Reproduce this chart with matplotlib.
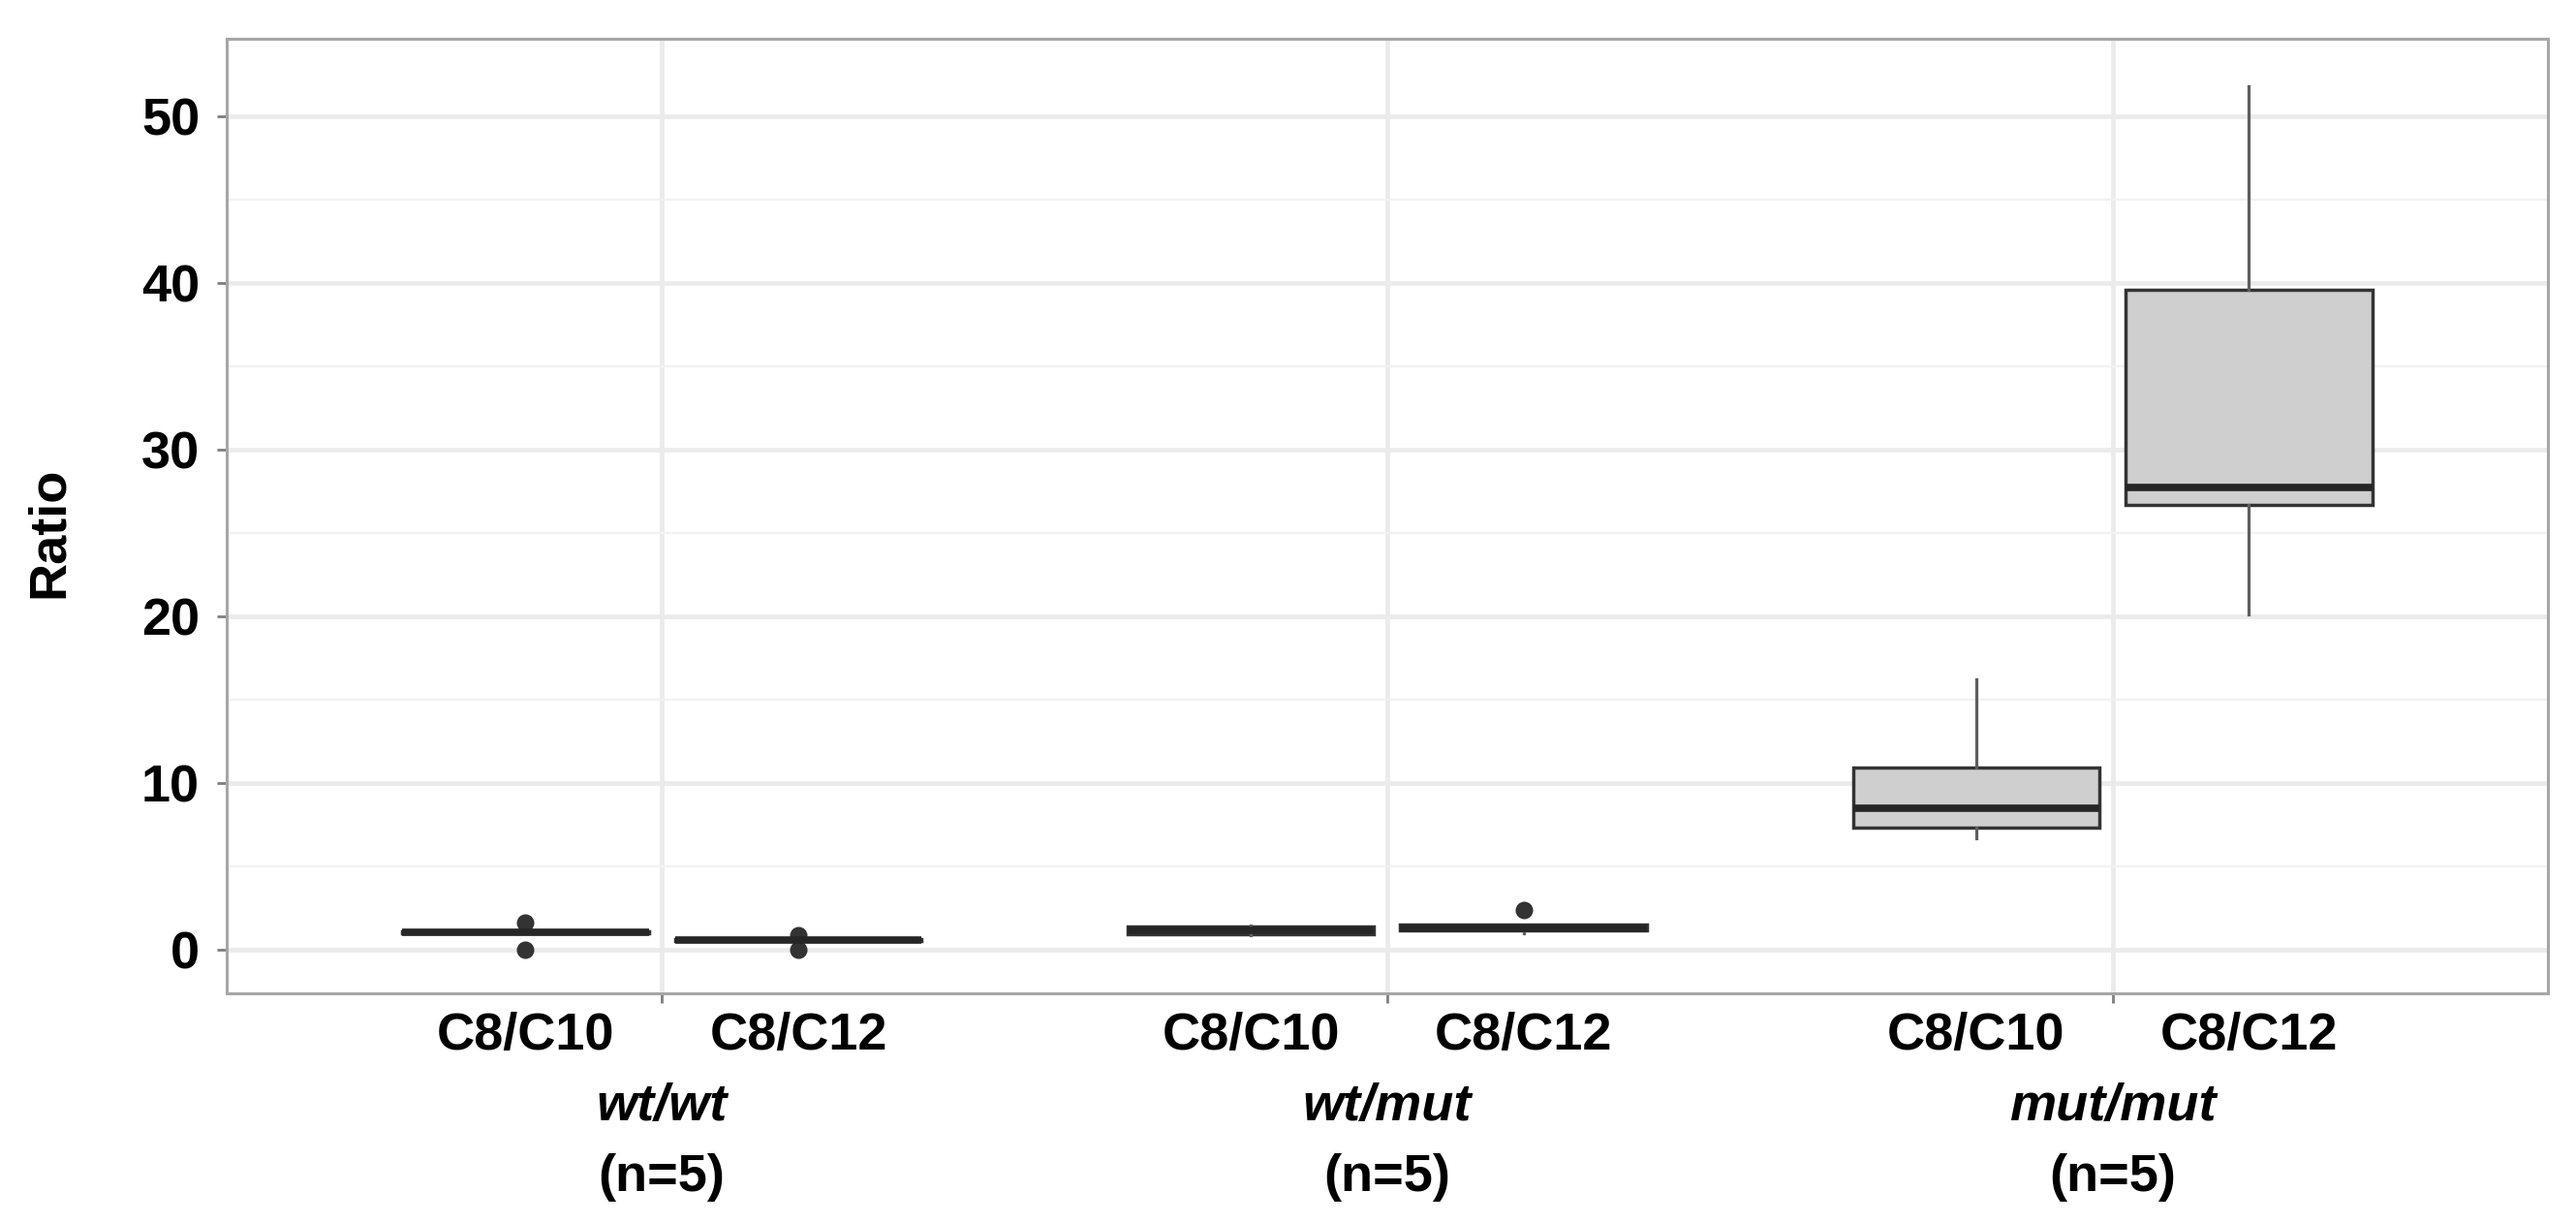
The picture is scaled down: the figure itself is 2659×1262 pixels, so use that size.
import numpy as np
import matplotlib.pyplot as plt
from matplotlib.ticker import MultipleLocator
from matplotlib.transforms import blended_transform_factory

plt.rcParams['font.family'] = ['Liberation Sans', 'DejaVu Sans']

genotypes = ['wt/wt', 'wt/mut', 'mut/mut']
sample_sizes = [5, 5, 5]
ratio_names = ['C8/C10', 'C8/C12']

# five samples per genotype
c8_c10 = [[0.0, 1.0, 1.05, 1.1, 1.6],
          [0.9, 0.95, 1.15, 1.4, 1.45],
          [6.7, 7.3, 8.5, 10.9, 16.2]]
c8_c12 = [[0.0, 0.55, 0.6, 0.65, 0.85],
          [1.0, 1.15, 1.3, 1.5, 2.4],
          [20.1, 26.7, 27.7, 39.6, 51.8]]

dodge = 0.188
box_w = 0.34
fs = 39

fig = plt.figure(figsize=(26.59, 12.62), dpi=100)
ax = fig.add_axes([0.088, 0.188, 0.901, 0.780])

groups = np.arange(1, len(genotypes) + 1)

style = dict(widths=box_w, patch_artist=True, showcaps=False,
             boxprops=dict(facecolor='#cfcfcf', edgecolor='#333333', linewidth=2.5),
             medianprops=dict(color='#262626', linewidth=5.5),
             whiskerprops=dict(color='#5e5e5e', linewidth=2.3),
             flierprops=dict(marker='o', markerfacecolor='#333333',
                             markeredgecolor='#333333', markersize=12))

for data, off in zip([c8_c10, c8_c12], [-dodge, dodge]):
    ax.boxplot(data, positions=groups + off, **style)

ax.set_xlim(0.4, 3.6)
ax.set_ylim(-2.6, 54.6)

ax.yaxis.set_major_locator(MultipleLocator(10))
ax.yaxis.set_minor_locator(MultipleLocator(5))
ax.set_xticks(groups)
ax.set_xticklabels([''] * len(groups))

ax.set_axisbelow(True)
ax.grid(which='major', color='#ebebeb', linewidth=3.4)
ax.grid(which='minor', axis='y', color='#f2f2f2', linewidth=1.7)

for sp in ax.spines.values():
    sp.set_color('#a6a6a6')
    sp.set_linewidth(2.2)

ax.tick_params(axis='both', which='major', length=7, width=2, color='#7f7f7f')
ax.tick_params(axis='y', which='minor', length=0)
ax.tick_params(axis='y', pad=13)
for lab in ax.get_yticklabels():
    lab.set_fontsize(fs)
    lab.set_fontweight('bold')

fig.text(0.019, 0.565, 'Ratio', rotation=90, fontsize=fs, fontweight='bold',
         ha='center', va='center')

tr = blended_transform_factory(ax.transData, fig.transFigure)
for g, name, n in zip(groups, genotypes, sample_sizes):
    for off, rn in zip([-dodge, dodge], ratio_names):
        ax.text(g + off, 0.153, rn, transform=tr, ha='center', va='center',
                fontsize=fs, fontweight='bold')
    ax.text(g, 0.095, name, transform=tr, ha='center', va='center',
            fontsize=fs, fontweight='bold', fontstyle='italic')
    ax.text(g, 0.037, f'(n={n})', transform=tr, ha='center', va='center',
            fontsize=fs, fontweight='bold')

fig.savefig('out.png', dpi=100)
